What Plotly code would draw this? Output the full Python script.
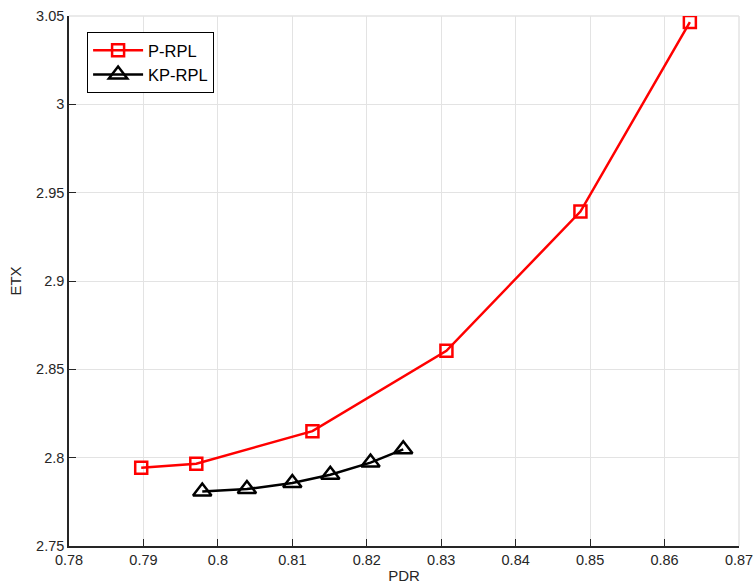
import plotly.graph_objects as go

# PDR vs ETX measurements for the two routing protocols
p_rpl_pdr = [0.7897, 0.7971, 0.8127, 0.8307, 0.8487, 0.8634]
p_rpl_etx = [2.7943, 2.7966, 2.8150, 2.8605, 2.9393, 3.0466]

kp_rpl_pdr = [0.7979, 0.8039, 0.8100, 0.8151, 0.8205, 0.8249]
kp_rpl_etx = [2.7808, 2.7822, 2.7857, 2.7903, 2.7972, 2.8047]

x_ticks = [0.78, 0.79, 0.80, 0.81, 0.82, 0.83, 0.84, 0.85, 0.86, 0.87]
x_tick_text = ["0.78", "0.79", "0.8", "0.81", "0.82", "0.83", "0.84", "0.85", "0.86", "0.87"]
y_ticks = [2.75, 2.80, 2.85, 2.90, 2.95, 3.00, 3.05]
y_tick_text = ["2.75", "2.8", "2.85", "2.9", "2.95", "3", "3.05"]

FONT = "Liberation Sans, Arial, Helvetica, sans-serif"
AX = "#262626"
GRID = "#e3e3e3"

fig = go.Figure()
fig.add_trace(go.Scatter(
    x=p_rpl_pdr, y=p_rpl_etx, name="P-RPL", mode="lines+markers",
    line=dict(color="#ff0000", width=2.5),
    marker=dict(symbol="square-open", size=12, color="#ff0000",
                line=dict(width=2.5, color="#ff0000")),
))
fig.add_trace(go.Scatter(
    x=kp_rpl_pdr, y=kp_rpl_etx, name="KP-RPL", mode="lines+markers",
    line=dict(color="#000000", width=2.5),
    marker=dict(symbol="triangle-up-open", size=16, color="#000000",
                line=dict(width=2.5, color="#000000")),
))

axis_common = dict(
    showgrid=True, gridcolor=GRID, gridwidth=1,
    showline=True, linecolor=AX, linewidth=1.5,
    ticks="inside", ticklen=7, tickwidth=1.2, tickcolor=AX,
    tickfont=dict(family=FONT, size=14.5, color=AX),
    zeroline=False, mirror=False, automargin=False,
)

fig.update_xaxes(
    range=[0.78, 0.87], tickvals=x_ticks, ticktext=x_tick_text,
    title=dict(text="PDR", font=dict(family=FONT, size=15, color=AX), standoff=3),
    **axis_common,
)
fig.update_yaxes(
    range=[2.75, 3.05], tickvals=y_ticks, ticktext=y_tick_text,
    title=dict(text="ETX", font=dict(family=FONT, size=15, color=AX), standoff=11),
    **axis_common,
)

# top and right grid borders
fig.add_shape(type="line", xref="paper", yref="paper", x0=0, x1=1, y0=1, y1=1,
              line=dict(color=GRID, width=1.5), layer="below")
fig.add_shape(type="line", xref="paper", yref="paper", x0=1, x1=1, y0=0, y1=1,
              line=dict(color=GRID, width=1.5), layer="below")

fig.update_layout(
    template="none",
    width=755, height=587,
    margin=dict(l=69, r=16, t=16, b=41),
    paper_bgcolor="white", plot_bgcolor="white",
    font=dict(family=FONT, size=14, color="#000000"),
    legend=dict(
        x=0.027, y=0.970, xanchor="left", yanchor="top",
        bgcolor="white", bordercolor="#000000", borderwidth=1,
        font=dict(family=FONT, size=16.5, color="#000000"),
        tracegroupgap=0, itemwidth=50,
    ),
)

fig.write_html("out.html")
